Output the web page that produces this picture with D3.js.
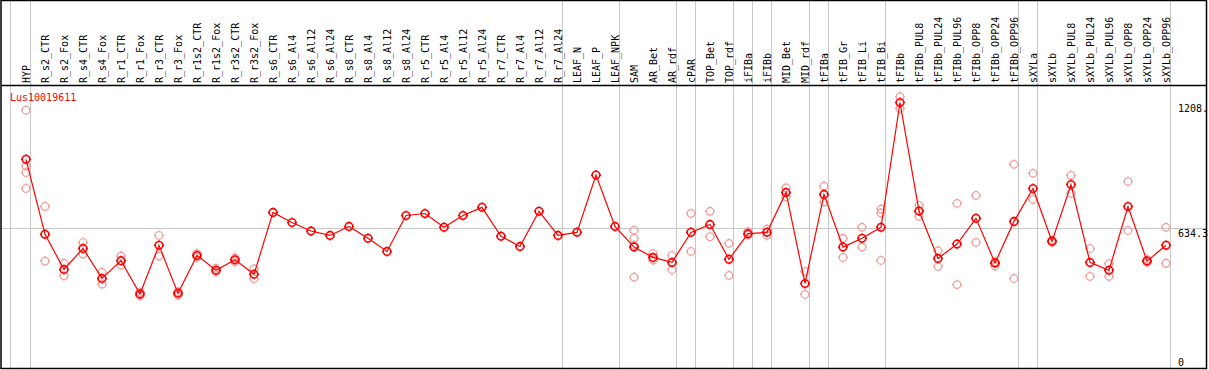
<!DOCTYPE html>
<html>
<head>
	<meta charset="utf-8">
	<script src="https://d3js.org/d3.v7.min.js"></script>
	<style>
		body { margin: 0; background: #fff; }
		svg text { font: 10px "DejaVu Sans Mono", monospace; }
	</style>
</head>
<body>
<svg></svg>
<script>
	var width = 1209;
	var height = 370;

	// sample names, left to right
	var categories = ["HYP",
		"R_s2_CTR","R_s2_Fox","R_s4_CTR","R_s4_Fox","R_r1_CTR","R_r1_Fox","R_r3_CTR","R_r3_Fox",
		"R_r1s2_CTR","R_r1s2_Fox","R_r3s2_CTR","R_r3s2_Fox",
		"R_s6_CTR","R_s6_Al4","R_s6_Al12","R_s6_Al24","R_s8_CTR","R_s8_Al4","R_s8_Al12","R_s8_Al24",
		"R_r5_CTR","R_r5_Al4","R_r5_Al12","R_r5_Al24","R_r7_CTR","R_r7_Al4","R_r7_Al12","R_r7_Al24",
		"LEAF_N","LEAF_P","LEAF_NPK","SAM","AR_Bet","AR_rdf","cPAR","TOP_Bet","TOP_rdf",
		"iFIBa","iFIBb","MID_Bet","MID_rdf","tFIBa","tFIB_Gr","tFIB_Li","tFIB_Bi",
		"tFIBb","tFIBb_PUL8","tFIBb_PUL24","tFIBb_PUL96","tFIBb_OPP8","tFIBb_OPP24","tFIBb_OPP96",
		"sXYLa","sXYLb","sXYLb_PUL8","sXYLb_PUL24","sXYLb_PUL96","sXYLb_OPP8","sXYLb_OPP24","sXYLb_OPP96"];

	// mean expression per sample
	var means = [949,
		607,447,543,406,487,335,557,338,
		511,443,491,425,
		707,661,622,602,643,589,529,693,
		702,639,693,730,598,552,712,602,
		616,877,643,549,502,479,616,652,493,
		610,616,798,383,789,549,589,639,
		1208,713,497,563,680,476,666,
		816,575,834,479,443,734,485,557];

	// individual replicates per sample
	var replicates = [[1173,918,889,816],
		[734,485],[475,418],[570,517],[434,380],[508,467],[343,327],[602,508],[345,329],
		[520,502],[453,436],[500,482],[449,405],
		[],[],[],[],[],[],[],[],
		[],[],[],[],[],[],[],[],
		[],[],[],[626,589,558,412],[519,490],[511,446],[702,529],[712,596],[566,420],
		[619,603],[631,602],[819,778],[438,333],[827,754],[589,502],[639,549],[722,704,488],
		[1235,1181],[739,689],[532,461],[748,378],[784,570],[482,463],[926,406],
		[885,766],[580,570],[876,794],[543,415],[473,415],[848,625],[493,479],[639,475]];

	// last sample of each group (a grey rule follows it)
	var groupEnds = ["HYP","R_r7_Al24","LEAF_NPK","AR_rdf","cPAR","TOP_rdf","iFIBa","iFIBb",
		"MID_rdf","tFIBa","tFIB_Bi","tFIBb_OPP96","sXYLa","sXYLb_OPP96"];

	var yTicks = [0, 634.3, 1208];
	var yTickLabels = ["0", "634.3", "1208."];
	var geneName = "Lus10019611";

	var svg = d3.select("svg")
		.attr("width", width)
		.attr("height", height);

	var x = d3.scalePoint()
		.domain(categories)
		.range([26, 1166]);

	var y = d3.scaleLinear()
		.domain([0, 1208])
		.range([367.5, 102.5]);

	var headerY = 85.5;

	// group separators
	var sepX = [x(categories[0]) - 15.5].concat(groupEnds.map(function(c) { return x(c) + 4.5; }));
	svg.append("g").selectAll("line")
		.data(sepX)
		.enter().append("line")
		.attr("x1", function(d) { return d; })
		.attr("x2", function(d) { return d; })
		.attr("y1", 0)
		.attr("y2", height)
		.attr("stroke", "#c8c8c8")
		.attr("stroke-width", 1);

	// mean rule
	svg.append("line")
		.attr("x1", 1).attr("x2", 1206)
		.attr("y1", Math.round(y(634.3)) + 0.5)
		.attr("y2", Math.round(y(634.3)) + 0.5)
		.attr("stroke", "#c8c8c8");

	// frame and header rule
	svg.append("rect")
		.attr("x", 1).attr("y", 0.5)
		.attr("width", 1205.5).attr("height", 368)
		.attr("fill", "none")
		.attr("stroke", "#000")
		.attr("stroke-width", 1.5);
	svg.append("line")
		.attr("x1", 1).attr("x2", 1207)
		.attr("y1", headerY).attr("y2", headerY)
		.attr("stroke", "#000")
		.attr("stroke-width", 1.5);

	// column labels
	svg.append("g").selectAll("text")
		.data(categories)
		.enter().append("text")
		.attr("transform", function(d) { return "translate(" + (x(d) + 4) + "," + 83 + ") rotate(-90)"; })
		.attr("fill", "#000")
		.text(function(d) { return d; });

	// value labels on the right
	svg.append("g").selectAll("text")
		.data(yTicks)
		.enter().append("text")
		.attr("x", 1178)
		.attr("y", function(d) { return d === 0 ? 366 : y(d) + 9; })
		.attr("fill", "#000")
		.text(function(d, i) { return yTickLabels[i]; });

	svg.append("text")
		.attr("x", 10)
		.attr("y", 101)
		.attr("fill", "#ff0000")
		.text(geneName);

	// circle with four little ticks
	function marker(r, t) {
		return "M" + r + ",0A" + r + "," + r + " 0 1,1 " + (-r) + ",0A" + r + "," + r + " 0 1,1 " + r + ",0" +
			"M0," + (-r) + "V" + (-r - t) + "M0," + r + "V" + (r + t) +
			"M" + (-r) + ",0H" + (-r - t) + "M" + r + ",0H" + (r + t);
	}

	var repPoints = [];
	categories.forEach(function(c, i) {
		replicates[i].forEach(function(v) { repPoints.push({c: c, v: v}); });
	});

	svg.append("g").selectAll("path")
		.data(repPoints)
		.enter().append("path")
		.attr("transform", function(d) { return "translate(" + x(d.c) + "," + y(d.v) + ")"; })
		.attr("d", marker(3.8, 1.2))
		.attr("fill", "none")
		.attr("stroke", "#f0a0a0")
		.attr("stroke-width", 1.3);

	var line = d3.line()
		.x(function(d, i) { return x(categories[i]); })
		.y(function(d) { return y(d); });

	svg.append("path")
		.datum(means)
		.attr("d", line)
		.attr("fill", "none")
		.attr("stroke", "#ff0000")
		.attr("stroke-width", 1.2);

	svg.append("g").selectAll("path")
		.data(means)
		.enter().append("path")
		.attr("transform", function(d, i) { return "translate(" + x(categories[i]) + "," + y(d) + ")"; })
		.attr("d", marker(3.8, 1.2))
		.attr("fill", "none")
		.attr("stroke", "#ff0000")
		.attr("stroke-width", 1.6);
</script>
</body>
</html>
